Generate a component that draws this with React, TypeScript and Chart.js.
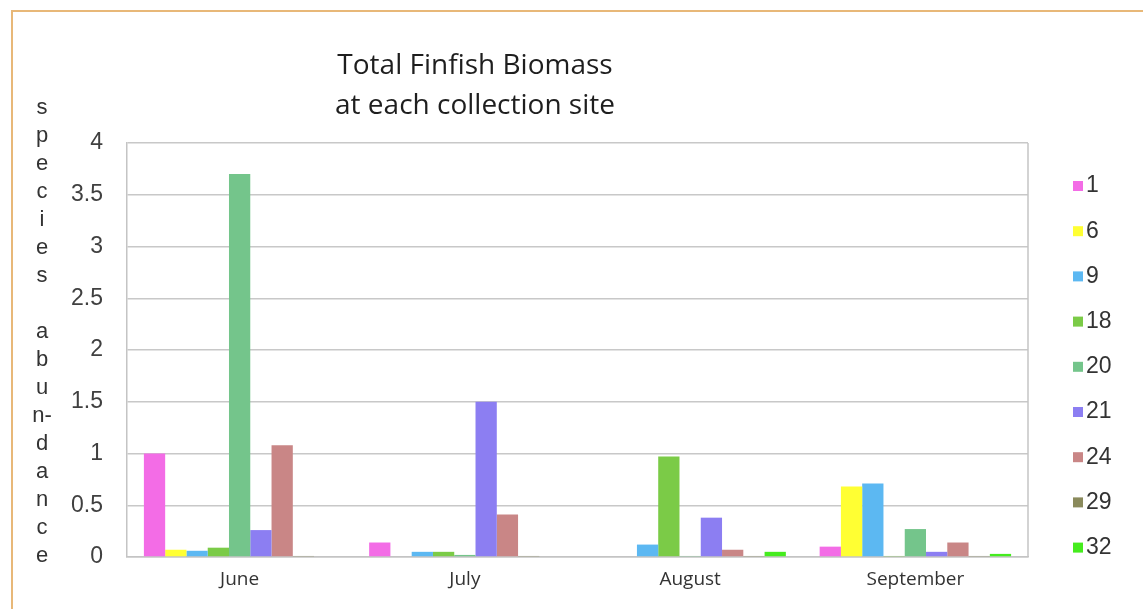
import { useEffect, useRef } from 'react';
import { Chart, registerables } from 'chart.js';

Chart.register(...registerables);

const months = ['June', 'July', 'August', 'September'];
const siteLabels = ['1', '6', '9', '18', '20', '21', '24', '29', '32'];

const site1 = [1.0, 0.14, 0, 0.1];
const site6 = [0.07, 0, 0, 0.68];
const site9 = [0.06, 0.05, 0.12, 0.71];
const site18 = [0.09, 0.05, 0.97, 0.01];
const site20 = [3.7, 0.02, 0.01, 0.27];
const site21 = [0.26, 1.5, 0.38, 0.05];
const site24 = [1.08, 0.41, 0.07, 0.14];
const site29 = [0.01, 0.01, 0.01, 0.01];
const site32 = [0, 0, 0.05, 0.03];

const siteValues = [site1, site6, site9, site18, site20, site21, site24, site29, site32];
const siteColors = ['#F36CE6', '#FFFF33', '#5CB8F2', '#7BCB47', '#74C58B', '#8C7EF2', '#C98686', '#8A8A5C', '#45EC1E'];

const titleLines = ['Total Finfish Biomass', 'at each collection site'];
const yTitleLetters = ['s', 'p', 'e', 'c', 'i', 'e', 's', '', 'a', 'b', 'u', 'n-', 'd', 'a', 'n', 'c', 'e'];

const decorPlugin = {
  id: 'decor',
  beforeDraw(chart: any) {
    const ctx = chart.ctx;
    ctx.save();
    ctx.fillStyle = '#ffffff';
    ctx.fillRect(0, 0, chart.width, chart.height);
    ctx.strokeStyle = '#E8B878';
    ctx.lineWidth = 2;
    ctx.beginPath();
    ctx.moveTo(12, chart.height + 2);
    ctx.lineTo(12, 11);
    ctx.lineTo(chart.width + 2, 11);
    ctx.stroke();
    ctx.restore();
  },
  afterDraw(chart: any) {
    const ctx = chart.ctx;
    const area = chart.chartArea;
    ctx.save();
    // right frame line
    ctx.strokeStyle = '#C4C4C4';
    ctx.lineWidth = 1.5;
    ctx.beginPath();
    ctx.moveTo(area.right, area.top);
    ctx.lineTo(area.right, area.bottom);
    ctx.stroke();

    // title
    ctx.fillStyle = '#1E1E1E';
    ctx.font = '28px "Open Sans"';
    ctx.textAlign = 'center';
    ctx.textBaseline = 'middle';
    titleLines.forEach((line, i) => ctx.fillText(line, 475, 66 + i * 40));

    // y-axis title, stacked letters
    ctx.fillStyle = '#333333';
    ctx.font = '22px "Liberation Sans"';
    ctx.textAlign = 'center';
    yTitleLetters.forEach((ch, i) => ctx.fillText(ch, 42, 108 + i * 28));

    // legend
    ctx.font = '23px "Liberation Sans"';
    ctx.textAlign = 'left';
    chart.data.datasets.forEach((ds: any, i: number) => {
      const y = 186 + i * 45.2;
      ctx.fillStyle = ds.backgroundColor;
      ctx.fillRect(1073, y - 5, 10, 10);
      ctx.fillStyle = '#333333';
      ctx.fillText(ds.label, 1086, y);
    });
    ctx.restore();
  },
};

export default function App() {
  const canvasRef = useRef<HTMLCanvasElement | null>(null);

  useEffect(() => {
    if (!canvasRef.current) return;
    const chart = new Chart(canvasRef.current, {
      type: 'bar',
      data: {
        labels: months,
        datasets: siteLabels.map((label, i) => ({
          label,
          data: siteValues[i],
          backgroundColor: siteColors[i],
          borderWidth: 0,
          barPercentage: 1,
          categoryPercentage: 0.85,
        })),
      },
      options: {
        responsive: false,
        animation: false,
        devicePixelRatio: 1,
        layout: { padding: { left: 0, top: 143, right: 115, bottom: 0 } },
        plugins: {
          legend: { display: false },
          title: { display: false },
          tooltip: { enabled: false },
        },
        scales: {
          x: {
            grid: { display: false, drawTicks: false },
            border: { display: true, color: '#C4C4C4', width: 1.5 },
            ticks: {
              color: '#333333',
              font: { family: 'Open Sans', size: 19 },
              padding: 11,
              maxRotation: 0,
            },
            afterFit(scale: any) {
              scale.height = 52;
            },
          },
          y: {
            min: 0,
            max: 4,
            grid: { color: '#C8C8C8', lineWidth: 1.5, drawTicks: false },
            border: { display: true, color: '#C4C4C4', width: 1.5 },
            ticks: {
              stepSize: 0.5,
              color: '#404040',
              font: { family: 'Liberation Sans', size: 23 },
              padding: 24,
              callback: (v: any) => String(Number(v)),
            },
            afterFit(scale: any) {
              scale.width = 127;
            },
          },
        },
      },
      plugins: [decorPlugin],
    });
    return () => chart.destroy();
  }, []);

  return (
    <div style={{ position: 'fixed', left: 0, top: 0, width: 1143, height: 609, background: '#fff' }}>
      <canvas ref={canvasRef} width={1143} height={609} style={{ display: 'block' }} />
    </div>
  );
}
